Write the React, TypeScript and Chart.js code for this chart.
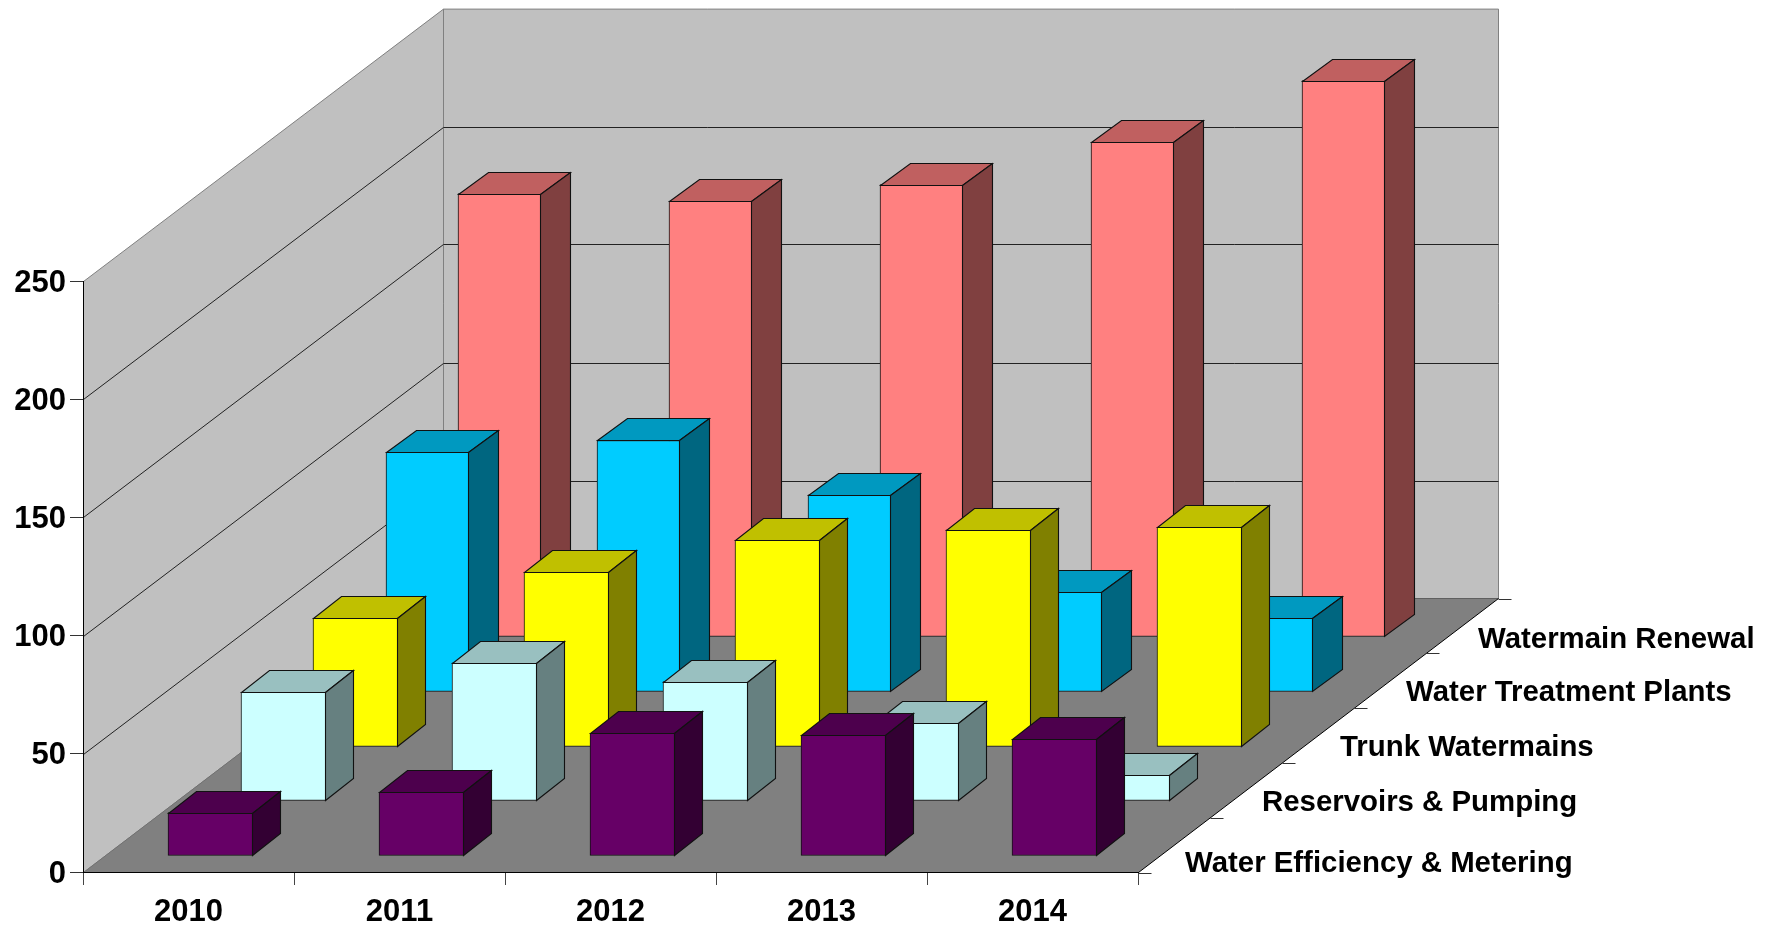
import React, { useEffect, useRef } from "react";
import { Chart, registerables } from "chart.js";

Chart.register(...registerables);

// ---- data ----
const years = ["2010", "2011", "2012", "2013", "2014"];
const waterEfficiency = [18.4, 26.9, 51.9, 51, 49.4];
const reservoirs = [46, 58.5, 50.5, 33, 11];
const trunkWatermains = [54.4, 73.9, 87.4, 91.9, 92.9];
const treatmentPlants = [101.4, 106.4, 83.4, 42.4, 31.4];
const watermainRenewal = [187.6, 184.4, 191.4, 209.4, 235.4];
const seriesNames = [
  "Water Efficiency & Metering",
  "Reservoirs & Pumping",
  "Trunk Watermains",
  "Water Treatment Plants",
  "Watermain Renewal",
];
const seriesValues = [waterEfficiency, reservoirs, trunkWatermains, treatmentPlants, watermainRenewal];
const frontColors = ["#660066", "#CCFFFF", "#FFFF00", "#00CCFF", "#FF8080"];
const topColors = ["#4D004D", "#99C0C0", "#C0C000", "#0099C0", "#C06060"];
const sideColors = ["#330033", "#668080", "#808000", "#006680", "#804040"];

// ---- layout ----
const FONT_FAMILY = '"Liberation Sans", Arial, sans-serif';
const DEPTH_X = 360;
const DEPTH_Y = 274;
const BACK_SCALE = 0.9973;
const ROW_COUNT = 5;
const BAR_WIDTH = [85, 85, 85, 83, 83];
const BAR_DEPTH_X = [28, 28, 28, 30, 30];
const BAR_DEPTH_Y = 22;
const LABEL_NUDGE_X = [10.5, 15.5, 21.5, 15.5, 15.5];
const LABEL_NUDGE_Y = [18.5, 12.5, 12.5, 12, 13.5];

const rowShift = (i: number) => ({
  x: Math.round(22.4 + 72.1 * i),
  y: Math.round(15.8 + 54.8 * i),
});

const poly = (ctx: CanvasRenderingContext2D, pts: number[][], fill: string | null, stroke: string | null, lw = 1) => {
  ctx.beginPath();
  pts.forEach((p, i) => (i ? ctx.lineTo(p[0], p[1]) : ctx.moveTo(p[0], p[1])));
  ctx.closePath();
  if (fill) {
    ctx.fillStyle = fill;
    ctx.fill();
  }
  if (stroke) {
    ctx.strokeStyle = stroke;
    ctx.lineWidth = lw;
    ctx.lineJoin = "miter";
    ctx.stroke();
  }
};

const line = (ctx: CanvasRenderingContext2D, x1: number, y1: number, x2: number, y2: number, color: string, lw = 1) => {
  ctx.beginPath();
  ctx.moveTo(x1, y1);
  ctx.lineTo(x2, y2);
  ctx.strokeStyle = color;
  ctx.lineWidth = lw;
  ctx.stroke();
};

const box3d = {
  id: "box3d",
  beforeDraw(chart: any) {
    const { ctx, chartArea: a, scales } = chart;
    const L = a.left + 0.5;
    const R = a.right + 0.5;
    const B = a.bottom + 0.5;
    const dx = DEPTH_X;
    const backB = B - DEPTH_Y;
    const backY = (y: number) => backB - (B - y) * BACK_SCALE;
    const T = a.top + 0.5;
    ctx.save();
    poly(ctx, [[L, B], [L + dx, backB], [L + dx, backY(T)], [L, T]], "#C0C0C0", "#808080");
    poly(ctx, [[L + dx, backB], [R + dx, backB], [R + dx, backY(T)], [L + dx, backY(T)]], "#C0C0C0", "#808080");
    scales.y.ticks.forEach((t: any) => {
      if (t.value === 0 || t.value === 250) return;
      const y = Math.round(scales.y.getPixelForValue(t.value)) + 0.5;
      const by = Math.round(backY(y)) + 0.5;
      line(ctx, L, y, L + dx, by, "#222222");
      line(ctx, L + dx, by, R + dx, by, "#222222");
    });
    poly(ctx, [[L, B], [R, B], [R + dx, backB], [L + dx, backB]], "#808080", null);
    line(ctx, L, B, L + dx, backB, "#707070");
    line(ctx, L + dx, backB, R + dx, backB, "#606060");
    line(ctx, R, B, R + dx, backB, "#000000");
    ctx.restore();
  },
  beforeDatasetDraw(chart: any, args: any) {
    const s = rowShift(args.index);
    chart.ctx.save();
    chart.ctx.translate(s.x, -s.y);
  },
  afterDatasetDraw(chart: any, args: any) {
    const { ctx } = chart;
    const i = args.index;
    const bdx = BAR_DEPTH_X[i];
    args.meta.data.forEach((el: any) => {
      const l = Math.round(el.x - el.width / 2) + 0.5;
      const r = Math.round(el.x + el.width / 2) - 0.5;
      const t = Math.round(el.y) + 0.5;
      const b = Math.round(el.base) - 0.5;
      poly(ctx, [[l, t], [r, t], [r + bdx, t - BAR_DEPTH_Y], [l + bdx, t - BAR_DEPTH_Y]], topColors[i], "#111111", 1.1);
      poly(ctx, [[r, t], [r + bdx, t - BAR_DEPTH_Y], [r + bdx, b - BAR_DEPTH_Y], [r, b]], sideColors[i], "#111111", 1.1);
    });
    ctx.restore();
  },
  afterDraw(chart: any) {
    const { ctx, chartArea: a } = chart;
    const R = a.right + 0.5;
    const B = a.bottom + 0.5;
    ctx.save();
    for (let i = 0; i <= ROW_COUNT; i++) {
      const x = R + (i * DEPTH_X) / ROW_COUNT;
      const y = Math.round(B - (i * DEPTH_Y) / ROW_COUNT) + 0.5;
      line(ctx, x, y, x + 13, y, "#333333");
    }
    ctx.font = `bold 29.4px ${FONT_FAMILY}`;
    ctx.fillStyle = "#000000";
    ctx.textAlign = "left";
    ctx.textBaseline = "middle";
    chart.data.datasets.forEach((d: any, i: number) => {
      const x = R + ((i + 0.5) * DEPTH_X) / ROW_COUNT + LABEL_NUDGE_X[i];
      const y = B - ((i + 0.5) * DEPTH_Y) / ROW_COUNT + LABEL_NUDGE_Y[i];
      ctx.fillText(d.label, x, y);
    });
    ctx.restore();
  },
};

export default function App() {
  const ref = useRef<HTMLCanvasElement>(null);
  useEffect(() => {
    document.body.style.margin = "0";
    document.body.style.background = "#ffffff";
    const tickFont = { family: FONT_FAMILY, size: 31, weight: "bold" as const };
    const chart = new Chart(ref.current!, {
      type: "bar",
      data: {
        labels: years,
        datasets: seriesNames.map((name, i) => ({
          label: name,
          data: seriesValues[i],
          backgroundColor: frontColors[i],
          borderColor: "#111111",
          borderWidth: 1,
          borderSkipped: false,
          grouped: false,
          barThickness: BAR_WIDTH[i],
          clip: false,
        })) as any,
      },
      options: {
        responsive: false,
        animation: false,
        events: [],
        layout: { autoPadding: false, padding: { top: 281, right: 639, left: 0, bottom: 0 } },
        plugins: { legend: { display: false }, tooltip: { enabled: false }, title: { display: false } },
        scales: {
          x: {
            grid: { display: true, drawOnChartArea: false, drawTicks: true, tickLength: 13, color: "#444444", offset: true },
            border: { display: true, color: "#000000", width: 1 },
            ticks: { color: "#000000", font: tickFont, padding: 9, maxRotation: 0, autoSkip: false },
            afterFit: (s: any) => {
              s.height = 53;
            },
          },
          y: {
            min: 0,
            max: 250,
            grid: { display: true, drawOnChartArea: false, drawTicks: true, tickLength: 13, color: "#333333" },
            border: { display: true, color: "#000000", width: 1 },
            ticks: { stepSize: 50, color: "#000000", font: tickFont, padding: 4, labelOffset: 2 },
            afterFit: (s: any) => {
              s.width = 83;
            },
          },
        },
      } as any,
      plugins: [box3d],
    });
    return () => chart.destroy();
  }, []);
  return (
    <div style={{ position: "fixed", left: 0, top: 0, width: 1777, height: 925, background: "#fff", overflow: "hidden" }}>
      <canvas ref={ref} width={1777} height={925} style={{ display: "block" }} />
    </div>
  );
}
